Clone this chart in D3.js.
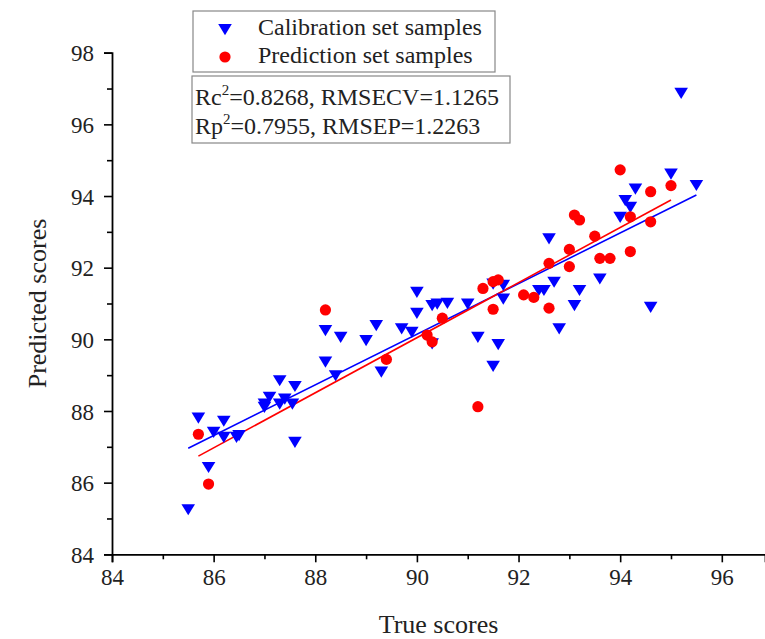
<!DOCTYPE html>
<html><head><meta charset="utf-8">
<script src="https://cdn.jsdelivr.net/npm/d3@7"></script>
<style>
html,body{margin:0;padding:0;background:#fff;}
svg{display:block;font-family:"Liberation Serif","Times New Roman",serif;}
</style></head>
<body>
<svg id="chart" width="765" height="639"></svg>
<script>
// ---- data ----
const calTrue = [85.5,85.7,85.9,86.0,86.2,86.2,86.45,86.5,87.0,87.0,87.1,87.3,87.3,87.4,87.55,87.6,87.6,
  88.2,88.5,88.2,88.4,89.0,89.2,89.3,89.7,89.9,90.0,90.0,90.3,90.4,90.6,90.3,91.0,91.2,91.6,91.5,91.5,91.7,91.7,
  92.4,92.5,92.6,92.7,92.8,93.1,93.2,93.6,94.0,94.1,94.2,94.3,94.6,95.0,95.5,95.2];
const calPred = [85.26,87.82,86.44,87.42,87.73,87.28,87.28,87.33,88.12,88.21,88.40,88.21,88.86,88.35,88.21,88.70,87.14,
  90.26,90.07,89.38,89.00,89.98,90.40,89.10,90.31,90.21,91.33,90.74,90.96,91.00,91.02,89.89,91.00,90.07,89.87,89.26,91.56,91.52,91.14,
  91.38,91.38,92.82,91.61,90.31,90.96,91.38,91.70,93.42,93.89,93.70,94.21,90.91,94.63,94.31,96.88];
const preTrue = [85.7,85.9,88.2,89.4,90.2,90.3,90.5,91.2,91.3,91.5,91.5,91.6,92.1,92.3,92.6,92.6,93.0,93.0,93.1,93.2,
  93.5,93.6,93.8,94.0,94.2,94.2,94.6,94.6,95.0];
const prePred = [87.35,85.96,90.82,89.44,90.12,89.93,90.59,88.12,91.42,90.84,91.61,91.66,91.24,91.17,92.12,90.87,92.51,92.03,93.47,93.33,
  92.88,92.26,92.26,94.73,93.42,92.45,94.12,93.28,94.29];
const calFit = [[85.5,86.96],[95.5,94.03]];
const preFit = [[85.7,86.74],[95.0,93.89]];
const xMajor = [84,86,88,90,92,94,96];
const xMinor = [85,87,89,91,93,95];
const yMajor = [84,86,88,90,92,94,96,98];
const yMinor = [85,87,89,91,93,95,97];
const legendLabels = ["Calibration set samples","Prediction set samples"];
const statLines = [["Rc","2","=0.8268, RMSECV=1.1265"],["Rp","2","=0.7955, RMSEP=1.2263"]];
const xTitle = "True scores", yTitle = "Predicted scores";

// ---- layout ----
const svg = d3.select("#chart");
const x = d3.scaleLinear().domain([84,96.85]).range([112,765]);
const y = d3.scaleLinear().domain([84,98]).range([554.3,52.7]);
const BLUE = "#0000ff", RED = "#ff0000";

// triangle path (downward)
const triPath = "M-6.8,-5L6.8,-5L0,6.2Z";

// fit lines
const line = d3.line().x(d=>x(d[0])).y(d=>y(d[1]));
svg.append("path").attr("d",line(calFit)).attr("stroke",BLUE).attr("stroke-width",1.6).attr("fill","none");
svg.append("path").attr("d",line(preFit)).attr("stroke",RED).attr("stroke-width",1.6).attr("fill","none");

// calibration
svg.append("g").selectAll("path").data(calTrue.map((t,i)=>[t,calPred[i]])).join("path")
  .attr("d",triPath).attr("transform",d=>`translate(${x(d[0])},${y(d[1])})`).attr("fill",BLUE);
// prediction
svg.append("g").selectAll("circle").data(preTrue.map((t,i)=>[t,prePred[i]])).join("circle")
  .attr("cx",d=>x(d[0])).attr("cy",d=>y(d[1])).attr("r",5.6).attr("fill",RED);

// axes
const gx = svg.append("g").attr("transform",`translate(0,${y(84)})`);
gx.call(d3.axisBottom(x).tickValues(xMajor).tickSize(8).tickPadding(6).tickFormat(d3.format("d")));
const gxm = svg.append("g").attr("transform",`translate(0,${y(84)})`);
gxm.call(d3.axisBottom(x).tickValues(xMinor).tickSize(5).tickFormat(""));
gxm.select(".domain").remove();
const gy = svg.append("g").attr("transform",`translate(${x(84)},0)`);
gy.call(d3.axisLeft(y).tickValues(yMajor).tickSize(8).tickPadding(10).tickFormat(d3.format("d")));
const gym = svg.append("g").attr("transform",`translate(${x(84)},0)`);
gym.call(d3.axisLeft(y).tickValues(yMinor).tickSize(5).tickFormat(""));
gym.select(".domain").remove();
svg.selectAll(".domain").attr("stroke","#000").attr("stroke-width",1.8);
svg.selectAll(".tick line").attr("stroke","#000").attr("stroke-width",1.6);
svg.selectAll(".tick text").attr("font-family","Liberation Serif").attr("font-size",23).attr("fill","#222");
gy.selectAll(".tick text").attr("dy","0.35em");

// titles
svg.append("text").attr("x",(x.range()[0]+x.range()[1])/2).attr("y",627).attr("text-anchor","middle")
  .attr("dominant-baseline","middle").attr("font-size",26).attr("fill","#222").text(xTitle);
svg.append("text").attr("transform",`translate(40,${(y(84)+y(98))/2}) rotate(-90)`).attr("text-anchor","middle")
  .attr("dominant-baseline","middle").attr("font-size",26).attr("fill","#222").text(yTitle);

// legend
svg.append("rect").attr("x",193).attr("y",11).attr("width",302).attr("height",61)
  .attr("fill","#fff").attr("stroke","#888").attr("stroke-width",1.2);
svg.append("path").attr("d",triPath).attr("transform","translate(225,29)").attr("fill",BLUE);
svg.append("circle").attr("cx",225).attr("cy",57).attr("r",5.6).attr("fill",RED);
legendLabels.forEach((t,i)=>{
  svg.append("text").attr("x",258).attr("y",29+i*28).attr("dominant-baseline","middle")
    .attr("font-size",24).attr("fill","#222").text(t);
});
// stats box
svg.append("rect").attr("x",192).attr("y",76).attr("width",318).attr("height",67)
  .attr("fill","#fff").attr("stroke","#888").attr("stroke-width",1.2);
statLines.forEach((s,i)=>{
  const t = svg.append("text").attr("x",195).attr("y",105+i*29).attr("font-size",24).attr("fill","#222");
  t.append("tspan").text(s[0]);
  t.append("tspan").attr("font-size",15).attr("dy",-10).text(s[1]);
  t.append("tspan").attr("dy",10).text(s[2]);
});
</script>
</body></html>
